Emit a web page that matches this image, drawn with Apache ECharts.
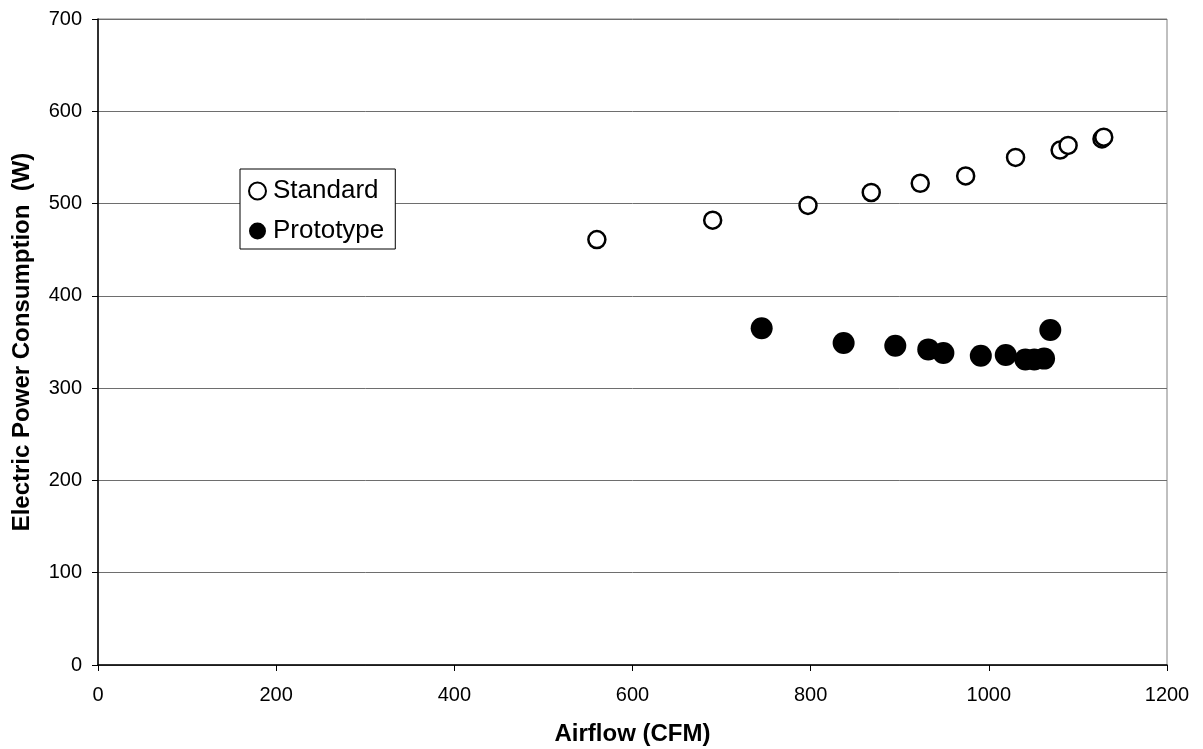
<!DOCTYPE html>
<html>
<head>
<meta charset="utf-8">
<script src="https://cdn.jsdelivr.net/npm/echarts@6/dist/echarts.min.js"></script>
<style>
html,body{margin:0;padding:0;background:#fff;}
#chart{width:1203px;height:749px;}
</style>
</head>
<body>
<div id="chart"></div>
<script>
// Data
const standardAirflow = [560, 690, 797, 868, 923, 974, 1030, 1080, 1089, 1127, 1129];
const standardPower   = [461, 482, 498, 512, 522, 530, 550, 558, 563, 570, 572];
const prototypeAirflow = [745, 837, 895, 932, 949, 991, 1019, 1041, 1051, 1062, 1069];
const prototypePower   = [365, 349, 346, 342, 338, 335, 336, 331, 331, 332, 363];
const xTicks = [0, 200, 400, 600, 800, 1000, 1200];
const yTicks = [0, 100, 200, 300, 400, 500, 600, 700];
const xTitle = 'Airflow (CFM)';
const yTitle = 'Electric Power Consumption  (W)';

const pairs = (xs, ys) => xs.map((x, i) => [x, ys[i]]);
const font = '"Liberation Sans", Arial, sans-serif';

const chart = echarts.init(document.getElementById('chart'), null, {renderer: 'canvas'});
chart.setOption({
  animation: false,
  backgroundColor: '#ffffff',
  textStyle: {fontFamily: font},
  grid: {
    left: 98, right: 36, top: 19, bottom: 84,
    outerBoundsMode: 'none',
    containLabel: false,
    show: true, borderColor: '#808080', borderWidth: 1, backgroundColor: '#ffffff'
  },
  legend: {
    orient: 'vertical',
    left: 240, top: 169,
    backgroundColor: '#fff',
    borderColor: '#000', borderWidth: 1,
    padding: [9, 11, 5, 8],
    itemGap: 14,
    itemWidth: 17, itemHeight: 17,
    textStyle: {fontSize: 26, color: '#000', fontFamily: font, padding: [0, 0, 0, 2]},
    data: [
      {name: 'Standard', icon: 'circle'},
      {name: 'Prototype', icon: 'circle'}
    ]
  },
  xAxis: {
    type: 'value',
    min: xTicks[0], max: xTicks[xTicks.length - 1], interval: 200,
    name: xTitle,
    nameLocation: 'middle',
    nameGap: 57,
    nameTextStyle: {fontSize: 24, fontWeight: 'bold', color: '#000', fontFamily: font},
    axisLine: {show: true, lineStyle: {color: '#000', width: 1.5}},
    axisTick: {show: true, inside: false, length: 6, lineStyle: {color: '#000'}},
    axisLabel: {fontSize: 20, color: '#000', margin: 20, fontFamily: font, formatter: v => String(v)},
    splitLine: {show: false}
  },
  yAxis: {
    type: 'value',
    min: yTicks[0], max: yTicks[yTicks.length - 1], interval: 100,
    name: yTitle,
    nameLocation: 'middle',
    nameGap: 64,
    nameRotate: 90,
    nameTextStyle: {fontSize: 24, fontWeight: 'bold', color: '#000', fontFamily: font},
    axisLine: {show: true, lineStyle: {color: '#000', width: 1.5}},
    axisTick: {show: true, inside: false, length: 6, lineStyle: {color: '#000'}},
    axisLabel: {fontSize: 20, color: '#000', margin: 16, fontFamily: font, formatter: v => String(v)},
    splitLine: {show: true, lineStyle: {color: '#6e6e6e', width: 1}}
  },
  series: [
    {
      name: 'Standard',
      type: 'scatter',
      symbol: 'circle',
      symbolSize: 17,
      itemStyle: {color: '#ffffff', borderColor: '#000000', borderWidth: 2.5, opacity: 1},
      data: pairs(standardAirflow, standardPower),
      z: 3
    },
    {
      name: 'Prototype',
      type: 'scatter',
      symbol: 'circle',
      symbolSize: 22,
      itemStyle: {color: '#000000', borderColor: '#000000', borderWidth: 0, opacity: 1},
      data: pairs(prototypeAirflow, prototypePower),
      z: 3
    }
  ]
});
</script>
</body>
</html>
